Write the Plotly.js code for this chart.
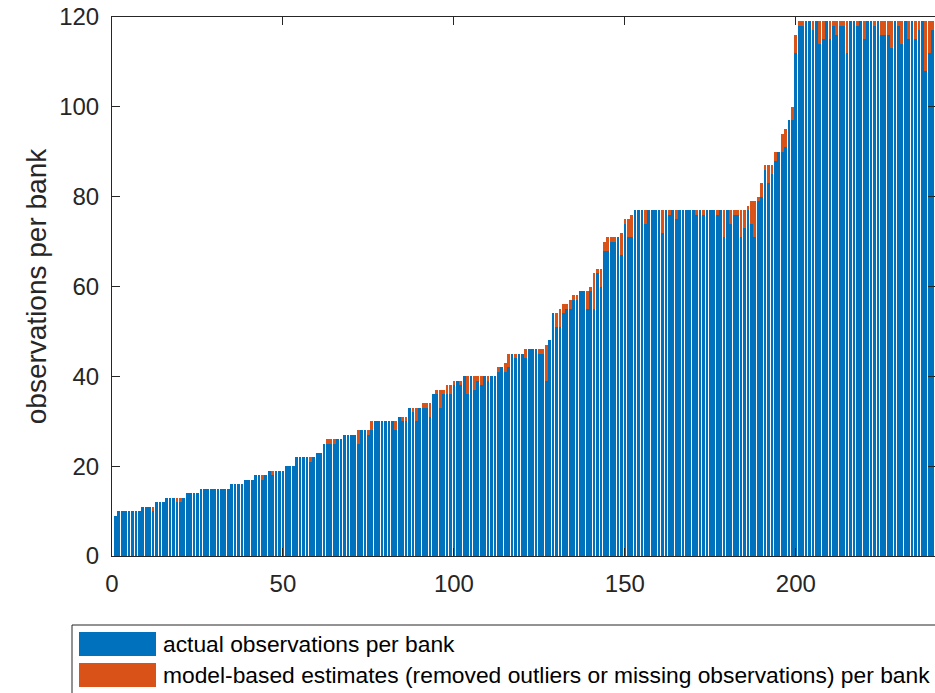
<!DOCTYPE html>
<html>
<head>
<meta charset="utf-8">
<script src="https://cdn.plot.ly/plotly-3.0.1.min.js"></script>
<style>
html, body { margin: 0; padding: 0; overflow: hidden; background: #fff; }
#chart { width: 937px; height: 693px; }
</style>
</head>
<body>
<div id="chart"></div>
<script>
// actual observations per bank (blue), bank 1..240
const actualObs = [
  9,10,10,10,10,10,10,10,11,11,
  11,10,12,12,12,13,13,13,12,12,
  13,14,14,14,14,15,15,15,15,15,
  15,15,15,15,16,16,16,16,17,17,
  17,18,18,17,18,19,18,19,19,19,
  20,20,20,22,22,22,22,21,22,23,
  23,25,25,25,25,26,26,27,27,27,
  27,25,28,28,27,28,30,30,30,30,
  30,30,28,31,30,30,33,32,30,33,
  33,33,31,36,36,33,36,36,36,38,
  39,38,40,36,40,37,39,38,40,39,
  40,40,41,42,41,42,45,44,45,45,
  44,46,46,46,45,45,39,48,54,51,
  51,54,55,55,57,57,59,59,55,59,
  55,63,60,68,68,70,70,71,67,74,
  71,71,77,77,77,74,77,77,77,77,
  72,77,76,77,75,77,77,77,77,77,
  76,77,76,77,77,77,76,77,71,77,
  74,76,76,71,73,77,74,71,79,80,
  86,83,85,88,90,90,91,97,97,112,
  118,118,119,119,117,119,114,115,119,115,
  118,116,118,118,112,119,119,118,119,115,
  119,119,118,119,116,116,116,113,119,118,
  114,119,115,119,115,117,119,108,112,117
];
// model-based estimates (orange), bank 1..240
const modelEst = [
  0,0,0,0,0,0,0,0,0,0,
  0,1,0,0,0,0,0,0,1,1,
  0,0,0,0,0,0,0,0,0,0,
  0,0,0,0,0,0,0,0,0,0,
  0,0,0,1,0,0,1,0,0,0,
  0,0,0,0,0,0,0,1,0,0,
  0,0,1,1,1,0,0,0,0,0,
  0,3,0,0,1,2,0,0,0,0,
  0,0,2,0,1,1,0,1,3,0,
  1,1,3,0,1,4,1,2,2,1,
  0,1,0,4,0,3,1,2,0,1,
  0,0,1,0,2,3,0,1,0,0,
  2,0,0,0,1,1,8,0,0,3,
  4,2,1,2,1,1,0,0,4,1,
  8,1,4,2,3,1,1,0,5,1,
  4,5,0,0,0,3,0,0,0,0,
  5,0,1,0,2,0,0,0,0,0,
  1,0,1,0,0,0,1,0,6,0,
  3,1,1,6,4,1,5,8,1,3,
  1,4,2,2,0,4,4,0,3,4,
  1,1,0,0,2,0,5,4,0,4,
  1,3,1,1,7,0,0,1,0,4,
  0,0,1,0,3,3,3,6,0,1,
  5,0,4,0,4,2,0,11,7,2
];
const bankIdx = actualObs.map((_, i) => i + 1);
const xTicks = [0, 50, 100, 150, 200];
const yTicks = [0, 20, 40, 60, 80, 100, 120];
const legendLabels = [
  'actual observations per bank',
  'model-based estimates (removed outliers or missing observations) per bank'
];
const colBlue = '#0072BD', colOrange = '#D95319';

const FONT = 'Liberation Sans, Arial, Helvetica, sans-serif';
const axisCol = '#262626';

const W = 937, H = 693;
const mL = 112, mR = 1, mT = 17, mB = 137;
const pw = W - mL - mR, ph = H - mT - mB;
const px = v => (v - mL) / pw;
const py = v => (H - mB - v) / ph;

const traces = [
  { type: 'bar', x: bankIdx, y: actualObs, name: legendLabels[0],
    marker: { color: colBlue, line: { width: 0 } } },
  { type: 'bar', x: bankIdx, y: modelEst, name: legendLabels[1],
    marker: { color: colOrange, line: { width: 0 } } }
];

const shapes = [
  { type: 'rect', xref: 'paper', yref: 'paper', x0: px(72), x1: px(960), y0: py(625), y1: py(720),
    line: { color: axisCol, width: 1 }, fillcolor: 'rgba(255,255,255,0)', layer: 'above' },
  { type: 'rect', xref: 'paper', yref: 'paper', x0: px(79), x1: px(156), y0: py(632), y1: py(656),
    line: { width: 0 }, fillcolor: colBlue },
  { type: 'rect', xref: 'paper', yref: 'paper', x0: px(79), x1: px(156), y0: py(663), y1: py(687),
    line: { width: 0 }, fillcolor: colOrange }
];
const annotations = [
  { xref: 'paper', yref: 'paper', x: px(161), y: py(644), xanchor: 'left', yanchor: 'middle',
    text: legendLabels[0], showarrow: false, font: { family: FONT, size: 22.8, color: '#000' } },
  { xref: 'paper', yref: 'paper', x: px(161), y: py(675), xanchor: 'left', yanchor: 'middle',
    text: legendLabels[1], showarrow: false, font: { family: FONT, size: 22.8, color: '#000' } }
];

const layout = {
  width: W, height: H,
  margin: { l: mL, r: mR, t: mT, b: mB, pad: 0 },
  paper_bgcolor: '#fff', plot_bgcolor: '#fff',
  barmode: 'stack', bargap: 0.2,
  showlegend: false,
  font: { family: FONT, color: axisCol },
  xaxis: {
    range: [0, 241], tickvals: xTicks, ticktext: xTicks.map(String),
    showline: true, mirror: 'ticks', linecolor: axisCol, linewidth: 1,
    ticks: 'inside', ticklen: 8, tickcolor: axisCol, tickwidth: 1,
    showgrid: false, zeroline: false,
    tickfont: { family: FONT, size: 24, color: axisCol },
    ticklabelstandoff: 6
  },
  yaxis: {
    range: [0, 120], tickvals: yTicks, ticktext: yTicks.map(String),
    showline: true, mirror: 'ticks', linecolor: axisCol, linewidth: 1,
    ticks: 'inside', ticklen: 8, tickcolor: axisCol, tickwidth: 1,
    showgrid: false, zeroline: false,
    tickfont: { family: FONT, size: 24, color: axisCol },
    ticklabelstandoff: 7,
    title: { text: 'observations per bank', font: { family: FONT, size: 28, color: axisCol }, standoff: 4 }
  },
  shapes: shapes,
  annotations: annotations
};

Plotly.newPlot('chart', traces, layout, { displayModeBar: false, staticPlot: true, responsive: false });
</script>
</body>
</html>
